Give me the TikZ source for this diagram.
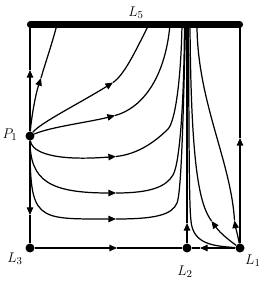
\documentclass[tikz,border=0pt]{standalone}
\usetikzlibrary{arrows.meta}
\begin{document}
\begin{tikzpicture}[x=0.03cm,y=0.03cm,
  flow/.style={line width=1.05pt},
  tipd/.style={-{Triangle[length=6.5pt,width=5.5pt]}},
  dot/.style={circle,fill=black,inner sep=0pt,minimum size=0.27cm},
  lab/.style={font=\fontsize{13}{15}\selectfont,inner sep=0pt},
  bar/.style={line width=5.2pt,line cap=round}]
\useasboundingbox (0,0) rectangle (261,281);
% fixed points
\coordinate (B0) at (30,256.5);
\coordinate (B1) at (240,256.5);
\node[dot] (P1) at (30,145) {};
\node[dot] (L3) at (30,33) {};
\node[dot] (L2) at (187,33) {};
\node[dot] (L1) at (240,33) {};
% ends on the top bar
\coordinate (t1) at (57,256.5);
\coordinate (t2) at (149,256.5);
\coordinate (t3) at (170,256.5);
\coordinate (t4) at (182,256.5);
\coordinate (t5) at (184.5,256.5);
\coordinate (t6) at (185.5,256.5);
\coordinate (tL2) at (187,256.5);
\coordinate (t9) at (188.5,256.5);
\coordinate (t8) at (190,256.5);
\coordinate (t7) at (197,256.5);
% arrow points
\coordinate (aL) at (30,211);
\coordinate (aD) at (30,66);
\coordinate (aB) at (117,33);
\coordinate (aR) at (200,33);
\coordinate (aL2) at (187,58);
\coordinate (aRV) at (240,143);
\coordinate (a1) at (41,203);
\coordinate (a2) at (113,198.5);
\coordinate (a3) at (115,165.5);
\coordinate (a4) at (116,124.5);
\coordinate (a5) at (116,88);
\coordinate (a6) at (116,62);
\coordinate (a7) at (234.5,60.5);
\coordinate (a8) at (211.5,60);
% frame lines
\draw[flow,tipd] (P1) -- (aL);
\draw[flow] (aL) -- (B0);
\draw[flow,tipd] (P1) -- (aD);
\draw[flow] (aD) -- (L3);
\draw[flow,tipd] (L3) -- (aB);
\draw[flow] (aB) -- (L2);
\draw[flow,tipd] (L1) -- (aR);
\draw[flow] (aR) -- (L2);
\draw[flow,tipd] (L2) -- (aL2);
\draw[flow] (aL2) -- (tL2);
\draw[flow,tipd] (L1) -- (aRV);
\draw[flow] (aRV) -- (B1);
% curves from P1
\draw[flow,tipd] (P1) .. controls (31,160) and (35,185) .. (a1);
\draw[flow] (a1) .. controls (45,217) and (52,237) .. (t1);
\draw[flow,tipd] (P1) .. controls (40,158) and (80,178) .. (a2);
\draw[flow] (a2) .. controls (126,207) and (140,240) .. (t2);
\draw[flow,tipd] (P1) .. controls (50,154) and (90,159) .. (a3);
\draw[flow] (a3) .. controls (140,172) and (165,200) .. (t3);
\draw[flow,tipd] (P1) .. controls (31,132) and (45,119) .. (a4);
\draw[flow] (a4) .. controls (140,127) and (158,142) .. (168,152) .. controls (175,159) and (181,200) .. (t4);
\draw[flow,tipd] (P1) .. controls (30,100) and (50,88) .. (a5);
\draw[flow] (a5) .. controls (150,88) and (166,94) .. (173,106) .. controls (180,118) and (184,180) .. (t5);
\draw[flow,tipd] (P1) .. controls (30,60) and (35,62) .. (a6);
\draw[flow] (a6) .. controls (155,62) and (172,66) .. (177,78) .. controls (181,88) and (183,150) .. (t6);
% curves from L1
\draw[flow,tipd] (L1) .. controls (238,45) and (235.5,54) .. (a7);
\draw[flow] (a7) .. controls (231,120) and (197,180) .. (t7);
\draw[flow,tipd] (L1) .. controls (230,40) and (220,48) .. (a8);
\draw[flow] (a8) .. controls (200,76) and (191,110) .. (t8);
\draw[flow] (L1) .. controls (215,35) and (193,36) .. (191,60) .. controls (189,75) and (189,150) .. (t9);
% top bar
\draw[bar] (B0) -- (B1);
% labels
\node[lab] (l5) at (136,268) {$L_5$};
\node[lab] (lp1) at (10,146) {$P_1$};
\node[lab] (l3) at (15,22) {$L_3$};
\node[lab] (l2) at (185,9) {$L_2$};
\node[lab,anchor=west] (l1) at (245,20) {$L_1$};
\end{tikzpicture}
\end{document}
